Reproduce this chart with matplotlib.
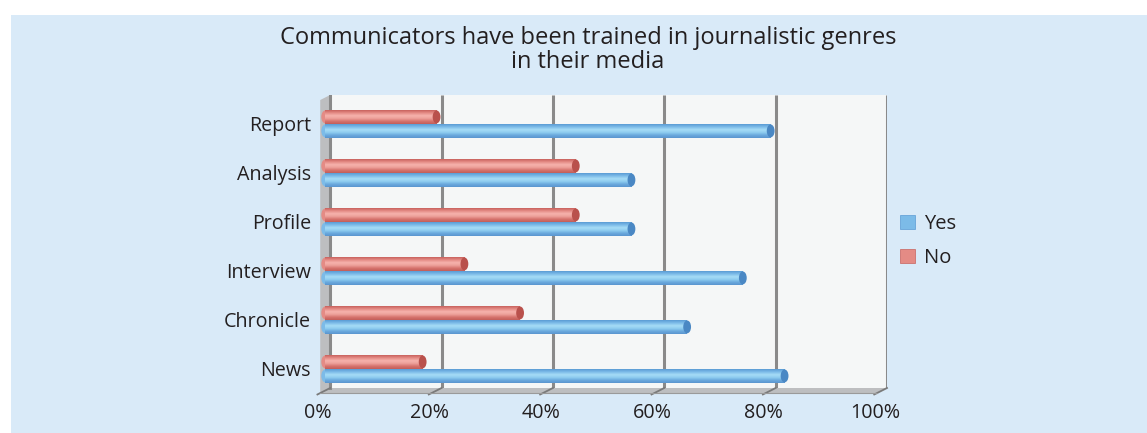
import numpy as np
import matplotlib
matplotlib.use("Agg")
import matplotlib.pyplot as plt
from matplotlib.patches import Rectangle, Polygon, Ellipse, Patch
from matplotlib.colors import to_rgb

plt.rcParams['font.family'] = ['Open Sans', 'DejaVu Sans']

# ---------------- data ----------------
title = "Communicators have been trained in journalistic genres\nin their media"
categories = ["Report", "Analysis", "Profile", "Interview", "Chronicle", "News"]
yes_values = [80, 55, 55, 75, 65, 82.5]
no_values = [20, 45, 45, 25, 35, 17.5]
series_names = ["Yes", "No"]
x_ticks = [0, 20, 40, 60, 80, 100]
x_tick_labels = ["0%", "20%", "40%", "60%", "80%", "100%"]

# ---------------- style ----------------
W, H = 1147, 433
fig = plt.figure(figsize=(W / 100, H / 100), dpi=100)
fig.patch.set_facecolor("white")
bg = Rectangle((11 / W, 0), 1 - 11 / W, 1 - 15 / H, transform=fig.transFigure,
               facecolor="#d9eaf8", edgecolor="none", zorder=-10)
fig.patches.append(bg)

ax_left, ax_right, ax_top, ax_bot = 318, 887, 95, 393
ax = fig.add_axes([ax_left / W, 1 - ax_bot / H, (ax_right - ax_left) / W, (ax_bot - ax_top) / H])
ax.set_facecolor("none")
for s in ax.spines.values():
    s.set_visible(False)

px_x = 5.59          # pixels per percent
px_y = 49.0          # pixels per category
dx = 5 / px_x        # depth offset (data units)
dy = 5 / px_y
x0 = -5 / px_x
x1 = (ax_right - 323) / px_x
y_top = -0.59
y_front = y_top + (ax_bot - ax_top) / px_y
y_back = y_front - dy
ax.set_xlim(x0, x1)
ax.set_ylim(y_front, y_top)

# back wall
ax.add_patch(Rectangle((dx, y_top), 100, y_back - y_top, facecolor="#f5f7f7",
                       edgecolor="none", zorder=0))
for v in x_ticks[1:]:
    ax.plot([v + dx, v + dx], [y_top, y_back], color="#8a8a8a", lw=2.2, zorder=1,
            solid_capstyle="butt")
# side wall
ax.add_patch(Polygon([(-dx, y_top + dy), (dx, y_top), (dx, y_back), (-dx, y_front)],
                     closed=True, facecolor="#bdbec0", edgecolor="none", zorder=1))
ax.plot([dx, dx], [y_top, y_back], color="#8a8a8a", lw=2.2, zorder=1.5)
# floor
ax.add_patch(Polygon([(-dx, y_front), (dx, y_back), (100 + dx, y_back), (100 - dx, y_front)],
                     closed=True, facecolor="#bdbec0", edgecolor="none", zorder=1, clip_on=False))
for v in x_ticks:
    ax.plot([v + dx, v - dx - 0.5], [y_back, y_front + 0.03], color="#7a7a7a", lw=1.3,
            zorder=1.6, clip_on=False)
ax.plot([-dx, 100 - dx], [y_front, y_front], color="#9a9a9a", lw=0.8, zorder=1.6, clip_on=False)

# bars
y = np.arange(len(categories))
bh = 13.5 / px_y
off = 7 / px_y
blue_stops = ["#5a9bd4", "#7cbbe8", "#a6dcf6", "#8fcdf0", "#6aa9dd", "#5a96cf"]
red_stops = ["#c8625d", "#e48b85", "#f6b3ad", "#eda099", "#d6736d", "#c35e59"]
cap_blue = "#4a88c4"
cap_red = "#b9514c"


def gradient_img(stops, n=64):
    cols = np.array([to_rgb(c) for c in stops])
    t = np.linspace(0, 1, len(stops))
    tt = np.linspace(0, 1, n)
    img = np.stack([np.interp(tt, t, cols[:, k]) for k in range(3)], axis=1)
    return img[:, None, :]


def shade(bars, stops, cap):
    img = gradient_img(stops)
    for b in bars:
        bx, by, bw, bhh = b.get_x(), b.get_y(), b.get_width(), b.get_height()
        im = ax.imshow(img, extent=(bx, bx + bw, by + bhh, by), aspect="auto",
                       zorder=3, interpolation="bilinear")
        im.set_clip_path(b)
        ax.add_patch(Ellipse((bx + bw, by + bhh / 2), 1.4, bhh * 0.95, facecolor=cap,
                             edgecolor="none", zorder=4))
        ax.add_patch(Ellipse((bx, by + bhh / 2), 1.4, bhh * 0.95, facecolor=stops[1],
                             edgecolor="none", zorder=2.5))


bars_no = ax.barh(y - off, no_values, height=bh, color=red_stops[1], zorder=2.8)
bars_yes = ax.barh(y + off, yes_values, height=bh, color=blue_stops[1], zorder=2.8)
shade(bars_no, red_stops, cap_red)
shade(bars_yes, blue_stops, cap_blue)
ax.set_xlim(x0, x1)
ax.set_ylim(y_front, y_top)

# ticks
ax.set_yticks(y)
ax.set_yticklabels(categories, fontsize=14.2, color="#231f20")
ax.set_xticks([v - dx - 0.4 for v in x_ticks])
ax.set_xticklabels(x_tick_labels, fontsize=14.2, color="#231f20")
ax.tick_params(axis="y", length=0, pad=5)
ax.tick_params(axis="x", length=0, pad=7.5)

# legend
handles = [Patch(facecolor="#7cbbe8", edgecolor="#5a9bd4", lw=0.5),
           Patch(facecolor="#e48b85", edgecolor="#c8625d", lw=0.5)]
fig.legend(handles, series_names, loc="center left",
           bbox_to_anchor=(882 / W, 1 - 241 / H), frameon=False, fontsize=14.5,
           handlelength=0.75, handleheight=0.75, handletextpad=0.45, labelspacing=0.7,
           labelcolor="#231f20")

# title
fig.text(588 / W, 1 - 50 / H, title, ha="center", va="center", fontsize=17,
         color="#231f20", linespacing=1.05)

fig.savefig("out.png", dpi=100, facecolor=fig.get_facecolor())
